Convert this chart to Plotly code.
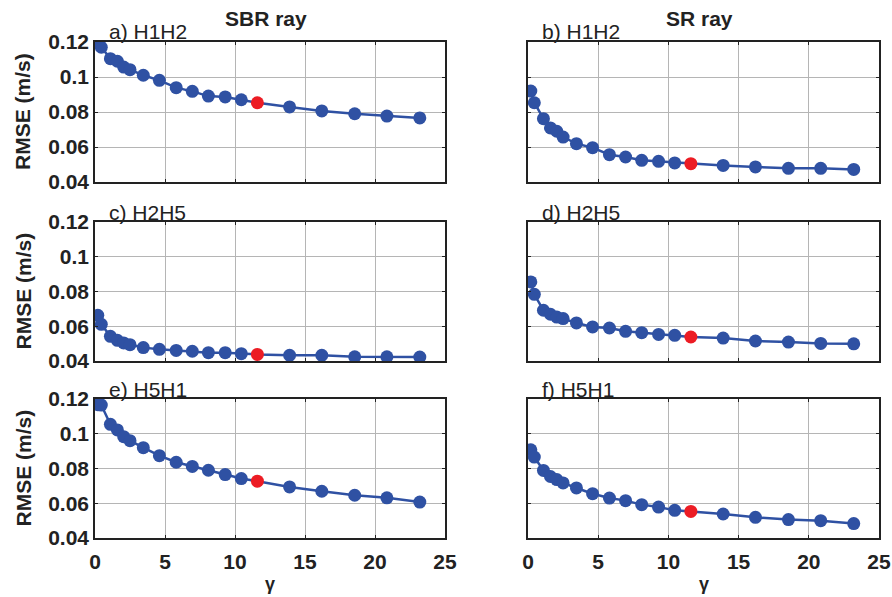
import plotly.graph_objects as go

gamma = [0.2, 0.45, 1.1, 1.6, 2.05, 2.5, 3.45, 4.6, 5.8, 6.95, 8.1, 9.3, 10.45, 11.6,
         13.9, 16.2, 18.55, 20.85, 23.2]
red_index = 13

rmse_a = [0.1205, 0.117, 0.1105, 0.109, 0.1057, 0.1042, 0.101, 0.0981, 0.0939, 0.0918,
          0.0891, 0.0886, 0.087, 0.0853, 0.0829, 0.0806, 0.079, 0.0777, 0.0766]
rmse_b = [0.092, 0.0853, 0.0762, 0.0709, 0.069, 0.0657, 0.0619, 0.0596, 0.0556, 0.0543,
          0.0524, 0.0518, 0.0509, 0.0505, 0.0495, 0.0486, 0.0478, 0.0478, 0.0472]
rmse_c = [0.0663, 0.0611, 0.0542, 0.0519, 0.0504, 0.0494, 0.0477, 0.0467, 0.0461, 0.0456,
          0.0448, 0.0448, 0.0442, 0.0438, 0.0433, 0.0433, 0.0424, 0.0424, 0.0423]
rmse_d = [0.0855, 0.0784, 0.0692, 0.0669, 0.0653, 0.0644, 0.0619, 0.0596, 0.059, 0.0571,
          0.0563, 0.0553, 0.0548, 0.0538, 0.0532, 0.0515, 0.0509, 0.0501, 0.0499]
rmse_e = [0.1167, 0.1165, 0.1054, 0.1022, 0.0983, 0.096, 0.092, 0.0874, 0.0836, 0.0812,
          0.079, 0.0765, 0.0742, 0.0727, 0.0694, 0.0669, 0.0646, 0.0631, 0.0607]
rmse_f = [0.0908, 0.0866, 0.0789, 0.0754, 0.0736, 0.0717, 0.0688, 0.0655, 0.063, 0.0615,
          0.0592, 0.0578, 0.0559, 0.0553, 0.0538, 0.0519, 0.0506, 0.05, 0.0483]

panel_labels = ["a) H1H2", "b) H1H2", "c) H2H5", "d) H2H5", "e) H5H1", "f) H5H1"]
column_titles = ["SBR ray", "SR ray"]
x_ticks = [0, 5, 10, 15, 20, 25]
y_ticks = [0.04, 0.06, 0.08, 0.1, 0.12]
y_title = "RMSE (m/s)"
x_title = "γ"

series = [rmse_a, rmse_b, rmse_c, rmse_d, rmse_e, rmse_f]

W, H = 892, 597
col_px = [(95, 445), (528, 879)]
row_px = [(42, 182), (222, 361), (399, 538)]

BLUE = "#2f51a3"
RED = "#ec1c24"
FONT = "Liberation Sans, Arial, sans-serif"
TXT = "#222"

fig = go.Figure()
layout = {}
annotations = []
for i, ys in enumerate(series):
    r, c = divmod(i, 2)
    n = i + 1
    xa = "x" if n == 1 else f"x{n}"
    ya = "y" if n == 1 else f"y{n}"
    colors = [RED if k == red_index else BLUE for k in range(len(ys))]
    fig.add_trace(go.Scatter(x=gamma, y=ys, xaxis=xa, yaxis=ya, mode="lines",
                             line=dict(color=BLUE, width=2.5), showlegend=False,
                             hoverinfo="skip"))
    fig.add_trace(go.Scatter(x=gamma, y=ys, xaxis=xa, yaxis=ya, mode="markers",
                             marker=dict(color=colors, size=13, line=dict(width=0)),
                             showlegend=False))
    x0, x1 = col_px[c]
    y0, y1 = row_px[r]
    xkey = "xaxis" if n == 1 else f"xaxis{n}"
    ykey = "yaxis" if n == 1 else f"yaxis{n}"
    layout[xkey] = dict(domain=[x0 / W, x1 / W], anchor=ya, range=[0, 25],
                        automargin=False,
                        tickvals=x_ticks, ticktext=[str(t) for t in x_ticks],
                        showticklabels=(r == 2), ticks="inside", ticklen=3,
                        ticklabelstandoff=4,
                        tickcolor=TXT, showline=True, linecolor=TXT,
                        linewidth=1.5, mirror="ticks", showgrid=True,
                        gridcolor="#b5b5b5", gridwidth=1, zeroline=False,
                        tickfont=dict(family=FONT, size=21, color=TXT, weight="bold"))
    layout[ykey] = dict(domain=[1 - y1 / H, 1 - y0 / H], anchor=xa,
                        automargin=False,
                        range=[0.04, 0.12], tickvals=y_ticks,
                        ticktext=[f"{t:g}" for t in y_ticks],
                        showticklabels=(c == 0), ticks="inside", ticklen=3,
                        tickcolor=TXT, showline=True, linecolor=TXT,
                        linewidth=1.5, mirror="ticks", showgrid=True,
                        gridcolor="#b5b5b5", gridwidth=1, zeroline=False,
                        tickfont=dict(family=FONT, size=21, color=TXT, weight="bold"))
    annotations.append(dict(text=panel_labels[i], xref="paper", yref="paper",
                            x=(x0 + 12) / W, y=1 - (y0 - 10) / H, xanchor="left",
                            yanchor="middle", showarrow=False,
                            font=dict(family=FONT, size=21, color=TXT)))
    if c == 0:
        annotations.append(dict(text=y_title, xref="paper", yref="paper",
                                x=23 / W, y=1 - ((y0 + y1) / 2) / H, textangle=-90,
                                xanchor="center", yanchor="middle", showarrow=False,
                                font=dict(family=FONT, size=21, color=TXT,
                                          weight="bold")))

for c, t in enumerate(column_titles):
    x0, x1 = col_px[c]
    annotations.append(dict(text=t, xref="paper", yref="paper",
                            x=((x0 + x1) / 2 - 4) / W, y=1 - 19 / H, xanchor="center",
                            yanchor="middle", showarrow=False,
                            font=dict(family=FONT, size=21, color=TXT, weight="bold")))
    annotations.append(dict(text=x_title, xref="paper", yref="paper",
                            x=((x0 + x1) / 2) / W, y=1 - 584 / H, xanchor="center",
                            yanchor="middle", showarrow=False,
                            font=dict(family=FONT, size=18, color=TXT, weight="bold")))

fig.update_layout(width=W, height=H, margin=dict(l=0, r=0, t=0, b=0),
                  paper_bgcolor="white", plot_bgcolor="white",
                  annotations=annotations, **layout)

fig.write_html("out.html")
